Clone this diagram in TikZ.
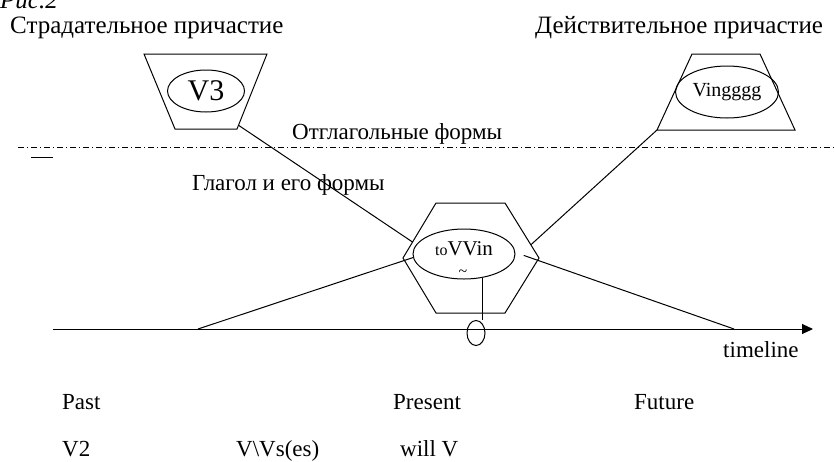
\documentclass[tikz,border=0pt]{standalone}
\usepackage{fontspec}
\setmainfont{Liberation Serif}
\usetikzlibrary{arrows.meta,shapes.geometric,calc}
\newcommand{\fs}[1]{\fontsize{#1}{#1}\selectfont}

\begin{document}
\begin{tikzpicture}[x=1pt, y=-1pt,
  every node/.style={font=\fs{23}, inner sep=0pt},
  lbl/.style={anchor=base west},
  oval/.style={draw, ellipse, inner sep=0pt, line width=1pt},
  ln/.style={line width=1pt},
  ar/.style={-{Triangle[length=11pt,width=10pt]}, line width=1pt}]
  \useasboundingbox (0,0) rectangle (834,461);

  % captions
  \node[lbl, font=\fs{25}\itshape] (fig) at (0,8) {Рис.2};
  \node[lbl, font=\fs{25}] (pass) at (10,33) {Страдательное причастие};
  \node[lbl, font=\fs{25}] (act) at (535,33) {Действительное причастие};

  % participle shapes
  \coordinate (lt1) at (144,54);  \coordinate (lt2) at (267,54);
  \coordinate (lt3) at (237,129); \coordinate (lt4) at (175,129);
  \draw[ln] (lt1) -- (lt2) -- (lt3) -- (lt4) -- cycle;
  \node[oval, minimum width=77pt, minimum height=42pt, font=\fs{30}]
    (v3) at (206,91) {V3};
  \coordinate (rt1) at (692,54);  \coordinate (rt2) at (760,54);
  \coordinate (rt3) at (795,130); \coordinate (rt4) at (657,130);
  \draw[ln] (rt1) -- (rt2) -- (rt3) -- (rt4) -- cycle;
  \node[oval, minimum width=103pt, minimum height=52pt, font=\fs{20}]
    (ving) at (727,92) {Vingggg};

  % border between the two groups
  \coordinate (bl0) at (18,147); \coordinate (bl1) at (834,147);
  \draw[line width=0.8pt, dash pattern=on 6pt off 3pt on 1pt off 3pt]
    (bl0) -- (bl1);
  \coordinate (mk0) at (31,157); \coordinate (mk1) at (53,157);
  \draw[ln] (mk0) -- (mk1);
  \node[lbl] (vforms) at (292,139) {Отглагольные формы};
  \node[lbl] (verb) at (192,190) {Глагол и его формы};

  % verb hexagon
  \coordinate (hx1) at (436,203); \coordinate (hx2) at (505,203);
  \coordinate (hx3) at (539,258); \coordinate (hx4) at (505,313);
  \coordinate (hx5) at (436,313); \coordinate (hx6) at (403,258);
  \draw[ln] (hx1) -- (hx2) -- (hx3) -- (hx4) -- (hx5) -- (hx6) -- cycle;
  \node[oval, minimum width=102pt, minimum height=50pt]
    (inf) at (464,254) {};
  \node (tov) at (464,249) {{\fs{16}to}{\fs{21}VVin}};
  \node[font=\fs{16}] (tld) at (463,273) {\textasciitilde};
  \node[oval, minimum width=18pt, minimum height=25pt] (now) at (476,333) {};

  % timeline
  \coordinate (tl0) at (53,329); \coordinate (tl1) at (813,329);
  \coordinate (pastpt) at (198,329); \coordinate (futpt) at (734,329);
  \draw[ar] (tl0) -- (tl1);
  \node[lbl] (tline) at (723,357) {timeline};

  % connectors
  \coordinate (hxa) at ($(hx1)!0.71!(hx6)$);
  \coordinate (hxb) at ($(hx2)!0.76!(hx3)$);
  \coordinate (hxc) at ($(inf.east)!0.35!(hx3)$);
  \draw[ln] ($(lt2)!0.95!(lt3)$) -- (hxa);
  \draw[ln] (rt4) -- (hxb);
  \draw[ln] (pastpt) -- (inf.184);
  \draw[ln] (hxc) -- (futpt);
  \draw[ln] (inf.-53) -- (inf.-53 |- now.north);

  % tenses
  \node[lbl] (past) at (62,409) {Past};
  \node[lbl] (pres) at (393,409) {Present};
  \node[lbl] (fut) at (634,409) {Future};
  \node[lbl] (v2) at (62,456) {V2};
  \node[lbl] (vs) at (236,456) {V\textbackslash Vs(es)};
  \node[lbl] (will) at (400,456) {will V};
\end{tikzpicture}
\end{document}
